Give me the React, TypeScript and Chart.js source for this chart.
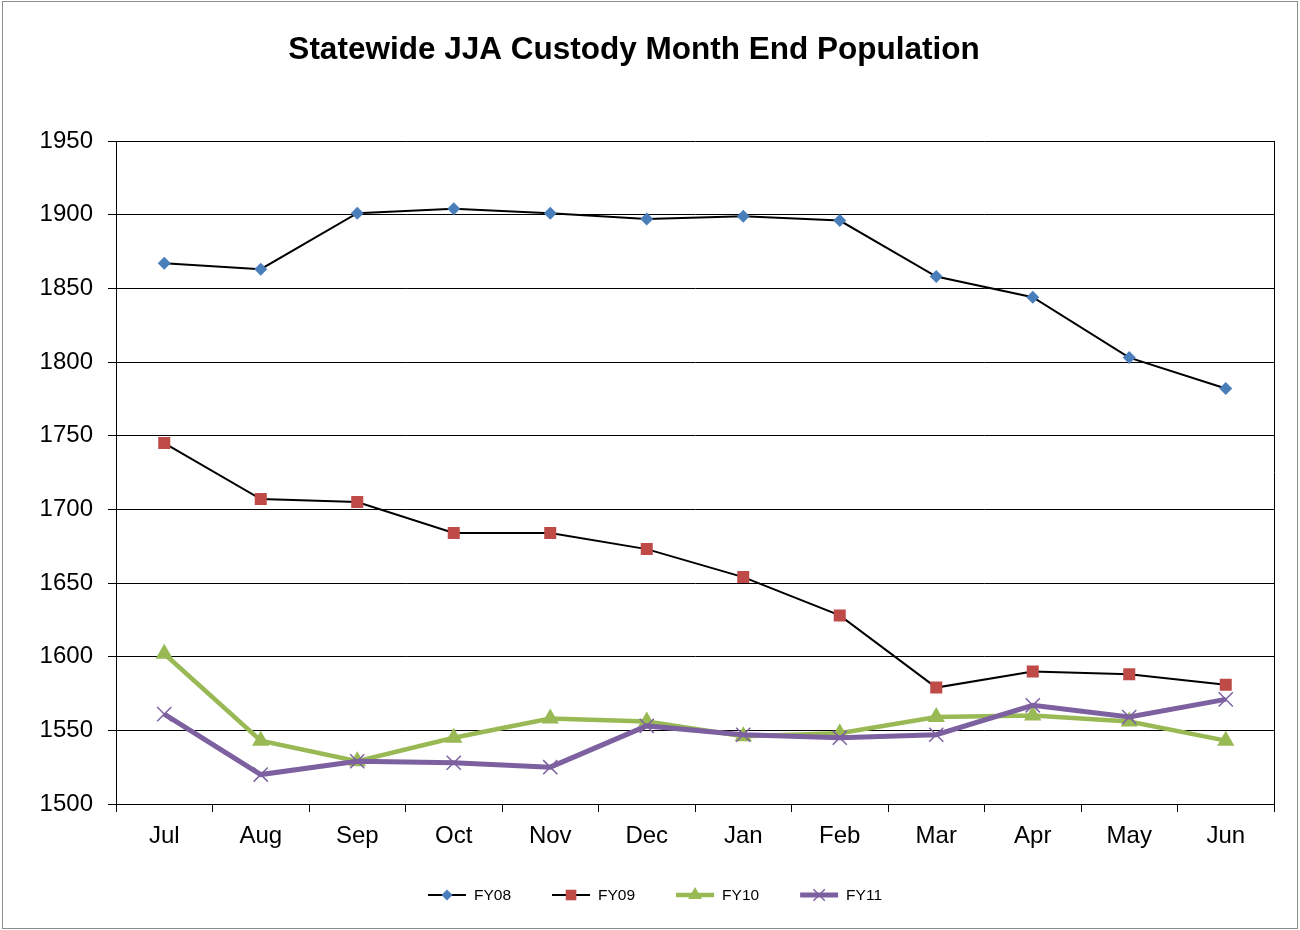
import React, { useEffect, useRef } from 'react';
import { Chart, registerables } from 'chart.js';

Chart.register(...registerables);

const chartTitle = 'Statewide JJA Custody Month End Population';
const months = ['Jul', 'Aug', 'Sep', 'Oct', 'Nov', 'Dec', 'Jan', 'Feb', 'Mar', 'Apr', 'May', 'Jun'];
const fy08 = [1867, 1863, 1901, 1904, 1901, 1897, 1899, 1896, 1858, 1844, 1803, 1782];
const fy09 = [1745, 1707, 1705, 1684, 1684, 1673, 1654, 1628, 1579, 1590, 1588, 1581];
const fy10 = [1602, 1543, 1529, 1545, 1558, 1556, 1546, 1548, 1559, 1560, 1556, 1543];
const fy11 = [1561, 1520, 1529, 1528, 1525, 1553, 1547, 1545, 1547, 1567, 1559, 1571];
const yMin = 1500;
const yMax = 1950;
const yStep = 50;

const FONT = '"Liberation Sans", Arial, sans-serif';

function drawMarker(ctx: CanvasRenderingContext2D, style: string, x: number, y: number, r: number, color: string, lw: number) {
  ctx.save();
  ctx.fillStyle = color;
  ctx.strokeStyle = color;
  ctx.lineWidth = lw;
  ctx.beginPath();
  if (style === 'rectRot') {
    ctx.moveTo(x, y - r);
    ctx.lineTo(x + r, y);
    ctx.lineTo(x, y + r);
    ctx.lineTo(x - r, y);
    ctx.closePath();
    ctx.fill();
  } else if (style === 'rect') {
    const s = r * Math.SQRT1_2;
    ctx.rect(x - s, y - s, 2 * s, 2 * s);
    ctx.fill();
  } else if (style === 'triangle') {
    const w = r * Math.sin(Math.PI / 3);
    ctx.moveTo(x, y - r);
    ctx.lineTo(x + w, y + r / 2);
    ctx.lineTo(x - w, y + r / 2);
    ctx.closePath();
    ctx.fill();
  } else if (style === 'crossRot') {
    const d = r * Math.SQRT1_2;
    ctx.moveTo(x - d, y - d);
    ctx.lineTo(x + d, y + d);
    ctx.moveTo(x + d, y - d);
    ctx.lineTo(x - d, y + d);
    ctx.stroke();
  }
  ctx.restore();
}

const framePlugin = {
  id: 'frame',
  beforeDraw(chart: any) {
    const ctx = chart.ctx as CanvasRenderingContext2D;
    ctx.save();
    ctx.fillStyle = '#ffffff';
    ctx.fillRect(0, 0, chart.width, chart.height);
    ctx.strokeStyle = '#8c8c8c';
    ctx.lineWidth = 1;
    ctx.strokeRect(2.5, 1.5, 1295, 927);
    ctx.restore();
  },
  beforeDatasetsDraw(chart: any) {
    const ctx = chart.ctx as CanvasRenderingContext2D;
    const a = chart.chartArea;
    ctx.save();
    ctx.strokeStyle = '#000000';
    ctx.lineWidth = 1;
    ctx.beginPath();
    ctx.moveTo(Math.round(a.right) + 0.5, a.top);
    ctx.lineTo(Math.round(a.right) + 0.5, a.bottom);
    ctx.stroke();
    ctx.restore();
  },
  afterDraw(chart: any) {
    const ctx = chart.ctx as CanvasRenderingContext2D;
    ctx.save();
    // title
    ctx.fillStyle = '#000000';
    ctx.font = `bold 31.5px ${FONT}`;
    ctx.textAlign = 'center';
    ctx.textBaseline = 'middle';
    ctx.fillText(chartTitle, 634, 50);
    // legend
    ctx.font = `15.5px ${FONT}`;
    ctx.textAlign = 'left';
    const sets = chart.data.datasets as any[];
    const lineLen = 38;
    const textGap = 8;
    const itemGap = 41;
    const widths = sets.map((s) => lineLen + textGap + ctx.measureText(s.label).width);
    const total = widths.reduce((p, c) => p + c, 0) + itemGap * (sets.length - 1);
    let x = 655 - total / 2;
    const y = 895;
    sets.forEach((s, i) => {
      ctx.save();
      ctx.strokeStyle = s.borderColor;
      ctx.lineWidth = s.borderWidth;
      ctx.beginPath();
      ctx.moveTo(x, y);
      ctx.lineTo(x + lineLen, y);
      ctx.stroke();
      ctx.restore();
      drawMarker(ctx, s.pointStyle, x + lineLen / 2, y, s.legendRadius, s.pointBackgroundColor, s.pointBorderWidth || 1.2);
      ctx.fillStyle = '#000000';
      ctx.fillText(s.label, x + lineLen + textGap, y + 1);
      x += widths[i] + itemGap;
    });
    ctx.restore();
  },
};

export default function App() {
  const ref = useRef<HTMLCanvasElement | null>(null);
  useEffect(() => {
    if (!ref.current) return;
    const chart = new Chart(ref.current, {
      type: 'line',
      data: {
        labels: months,
        datasets: [
          {
            label: 'FY08',
            data: fy08,
            borderColor: '#000000',
            borderWidth: 2,
            pointStyle: 'rectRot',
            pointRadius: 6.5,
            pointBackgroundColor: '#4A7EBB',
            pointBorderColor: '#4A7EBB',
            pointBorderWidth: 0,
            legendRadius: 5.5,
            tension: 0,
            order: 3,
          } as any,
          {
            label: 'FY09',
            data: fy09,
            borderColor: '#000000',
            borderWidth: 2,
            pointStyle: 'rect',
            pointRadius: 8.5,
            pointBackgroundColor: '#BE4B48',
            pointBorderColor: '#BE4B48',
            pointBorderWidth: 0,
            legendRadius: 7.5,
            tension: 0,
            order: 2,
          } as any,
          {
            label: 'FY10',
            data: fy10,
            borderColor: '#98B954',
            borderWidth: 4.5,
            pointStyle: 'triangle',
            pointRadius: 10,
            pointBackgroundColor: '#98B954',
            pointBorderColor: '#98B954',
            pointBorderWidth: 0,
            legendRadius: 8,
            tension: 0,
            order: 1,
          } as any,
          {
            label: 'FY11',
            data: fy11,
            borderColor: '#7D60A0',
            borderWidth: 5,
            pointStyle: 'crossRot',
            pointRadius: 10,
            pointBackgroundColor: '#7D60A0',
            pointBorderColor: '#7D60A0',
            pointBorderWidth: 1.5,
            legendRadius: 8,
            tension: 0,
            order: 0,
          } as any,
        ],
      },
      options: {
        animation: false,
        responsive: false,
        devicePixelRatio: 1,
        layout: { padding: { left: 0, right: 26, top: 141, bottom: 0 } },
        plugins: {
          legend: { display: false },
          title: { display: false },
          tooltip: { enabled: false },
        },
        scales: {
          x: {
            offset: true,
            grid: {
              offset: true,
              drawOnChartArea: false,
              drawTicks: true,
              tickLength: 8,
              color: '#000000',
            },
            border: { display: true, color: '#000000', width: 1 },
            ticks: {
              color: '#000000',
              font: { family: FONT, size: 24 },
              padding: 10,
              maxRotation: 0,
              autoSkip: false,
            },
            afterFit: (scale: any) => {
              scale.height = 930 - 804;
            },
          },
          y: {
            min: yMin,
            max: yMax,
            grid: {
              color: '#000000',
              lineWidth: 1,
              tickLength: 8,
            },
            border: { display: true, color: '#000000', width: 1 },
            ticks: {
              stepSize: yStep,
              color: '#000000',
              font: { family: FONT, size: 24 },
              padding: 15,
              callback: (v: any) => String(v),
            },
            afterFit: (scale: any) => {
              scale.width = 116;
            },
          },
        },
      },
      plugins: [framePlugin],
    });
    return () => chart.destroy();
  }, []);
  return (
    <div style={{ position: 'absolute', left: 0, top: 0, width: 1300, height: 930 }}>
      <canvas ref={ref} width={1300} height={930} style={{ display: 'block', width: 1300, height: 930 }} />
    </div>
  );
}
